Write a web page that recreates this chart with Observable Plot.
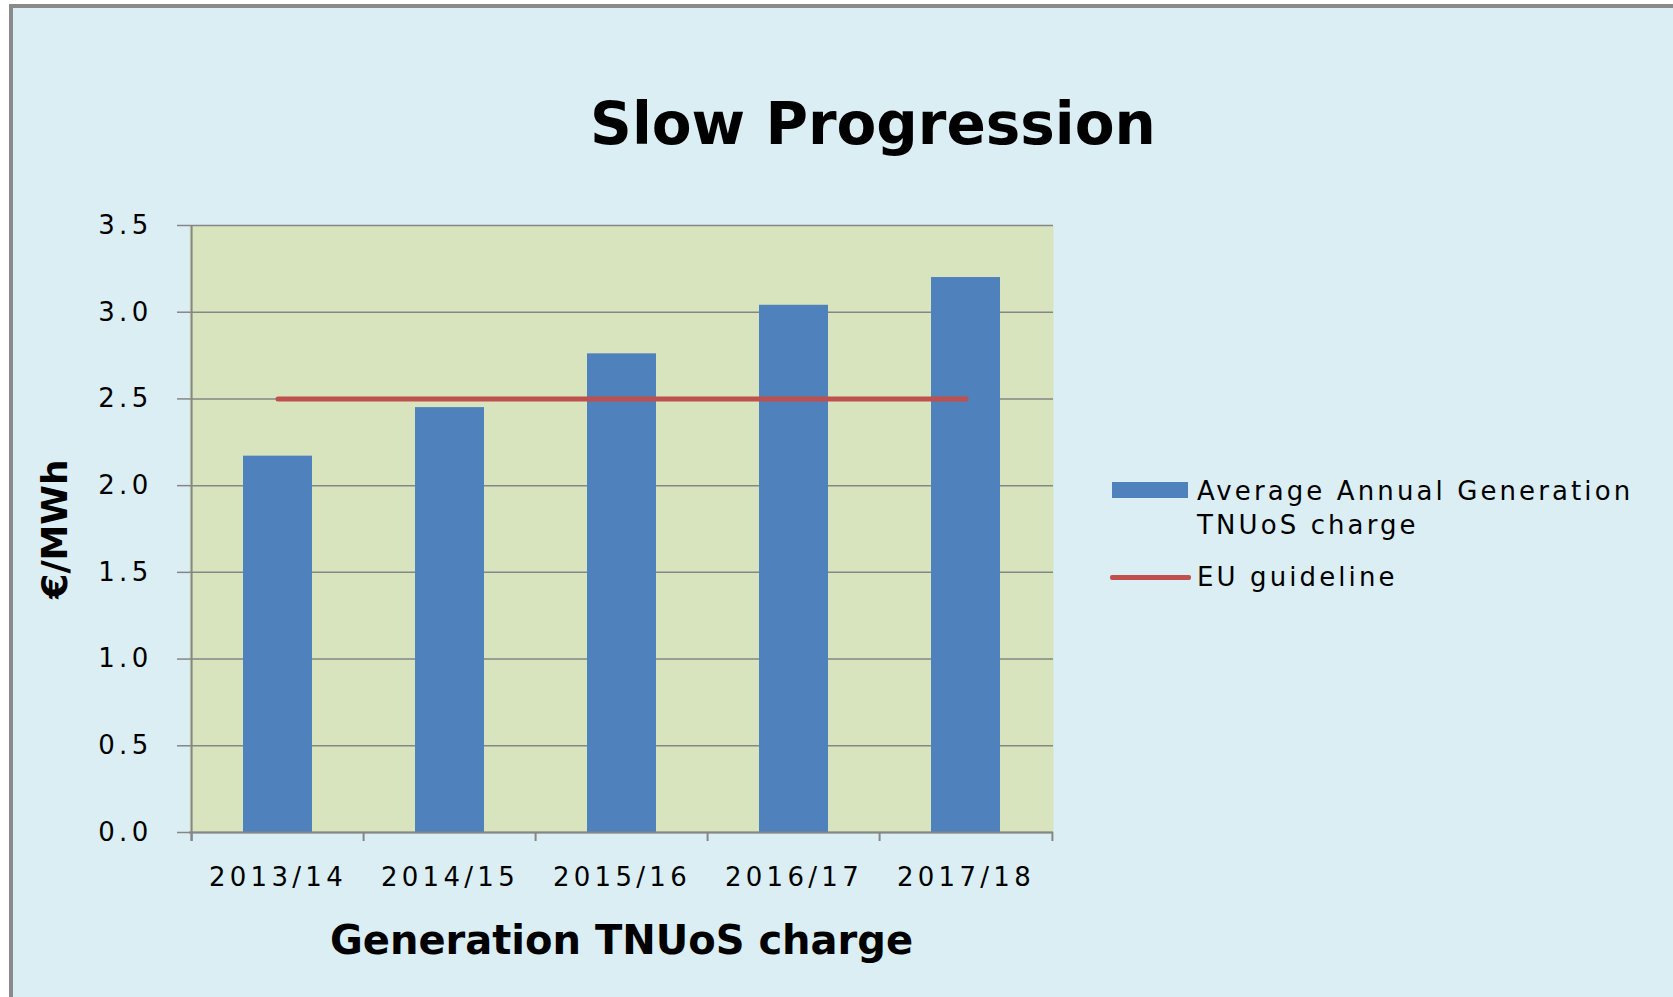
<!DOCTYPE html>
<html><head><meta charset="utf-8">
<script src="https://cdn.jsdelivr.net/npm/d3@7"></script>
<script src="https://cdn.jsdelivr.net/npm/@observablehq/plot@0.6"></script>
<style>
html,body{margin:0;padding:0;background:#fff;width:1673px;height:997px;overflow:hidden;}
#frame{position:absolute;left:9px;top:4px;width:1720px;height:1020px;background:#DBEEF4;border-left:4px solid #8A8A8A;border-top:4px solid #8A8A8A;}
#chart{position:absolute;left:0;top:0;}
#title{position:absolute;left:0;width:1746px;top:95px;text-align:center;font-family:"DejaVu Sans";font-weight:bold;font-size:58px;line-height:58px;color:#000;}
.leg{position:absolute;font-family:"DejaVu Sans";font-size:26px;line-height:34px;letter-spacing:3.1px;color:#000;}
.sw{position:absolute;}
.tick text{letter-spacing:4.3px;}
.lab text{letter-spacing:0px;}
</style>
</head><body>
<div id="frame"></div>
<div id="chart"></div>
<div id="title">Slow Progression</div>
<div id="legend"></div>
<script>
const years = ["2013/14", "2014/15", "2015/16", "2016/17", "2017/18"];
const charge = [2.17, 2.45, 2.76, 3.04, 3.20];
const guideline = [2.5, 2.5, 2.5, 2.5, 2.5];
const yTicks = [0, 0.5, 1.0, 1.5, 2.0, 2.5, 3.0, 3.5];
const seriesNames = ["Average Annual Generation\nTNUoS charge", "EU guideline"];
const xTitle = "Generation TNUoS charge";
const yTitle = "€/MWh";

const W = 1673, H = 997, mL = 189, mR = 620, mT = 225, mB = 165;
const step = (W - mL - mR) / years.length;
const plotH = H - mT - mB;
const bars = years.map((year, i) => ({year, value: charge[i]}));
const guide = years.map((year, i) => ({year, value: guideline[i]}));
const axisColor = "#868686";

const chart = Plot.plot({
  width: W, height: H,
  marginLeft: mL, marginRight: mR, marginTop: mT, marginBottom: mB,
  style: {background: "transparent", fontFamily: "DejaVu Sans", fontSize: "26px", color: "#000"},
  x: {domain: years, type: "band", paddingInner: 0.6, paddingOuter: 0.3, label: null},
  y: {domain: [0, 3.5], label: null},
  marks: [
    Plot.frame({fill: "#D7E4BD", stroke: null}),
    Plot.gridY(yTicks, {stroke: axisColor, strokeOpacity: 1, strokeWidth: 1.5}),
    Plot.barY(bars, {x: "year", y: "value", fill: "#4F81BD"}),
    Plot.lineY(guide, {x: "year", y: "value", stroke: "#C0504D", strokeWidth: 5, strokeLinecap: "round"}),
    Plot.ruleY([0], {stroke: axisColor, strokeWidth: 2}),
    Plot.ruleX([years[0]], {x: d => d, dx: -step / 2, stroke: axisColor, strokeWidth: 2, insetBottom: -9}),
    Plot.ruleX(years, {x: d => d, dx: -step / 2, stroke: axisColor, strokeWidth: 2, insetTop: plotH, insetBottom: -9}),
    Plot.ruleX([years[years.length - 1]], {x: d => d, dx: step / 2, stroke: axisColor, strokeWidth: 2, insetTop: plotH, insetBottom: -9}),
    Plot.axisY(yTicks, {tickFormat: d3.format(".1f"), tickSize: 12, tickPadding: 25, stroke: axisColor, strokeWidth: 1.5, fontSize: 26, className: "tick", label: null}),
    Plot.axisX({tickSize: 0, tickPadding: 35, fontSize: 26, className: "tick", label: null}),
    Plot.text([xTitle], {frameAnchor: "bottom", dy: 109, fontWeight: "bold", fontSize: 40, lineAnchor: "middle", className: "lab"}),
    Plot.text([yTitle], {frameAnchor: "left", dx: -134, rotate: -90, fontWeight: "bold", fontSize: 36, textAnchor: "middle", lineAnchor: "middle", className: "lab"})
  ]
});
document.getElementById("chart").appendChild(chart);

const leg = document.getElementById("legend");
const lines = seriesNames[0].split("\n");
leg.innerHTML =
  `<div class="sw" style="left:1112px;top:482px;width:76px;height:16px;background:#4F81BD"></div>` +
  `<div class="leg" style="left:1197px;top:474px">${lines[0]}<br>${lines[1]}</div>` +
  `<div class="sw" style="left:1110px;top:575px;width:81px;height:5px;border-radius:2px;background:#C0504D"></div>` +
  `<div class="leg" style="left:1197px;top:560px">${seriesNames[1]}</div>`;
</script>
</body></html>
